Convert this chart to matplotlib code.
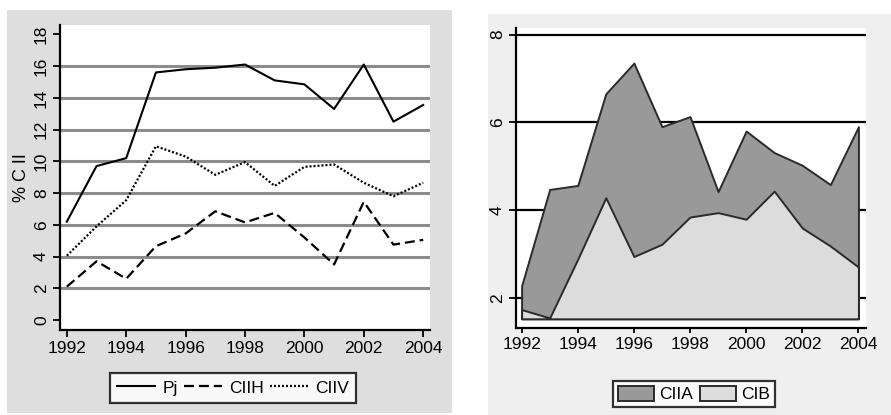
import numpy as np
import matplotlib.pyplot as plt
from matplotlib.patches import Rectangle

plt.rcParams['font.family'] = ['Liberation Sans', 'DejaVu Sans']

# datos
years = np.arange(1992, 2005)
pj   = [6.2, 9.7, 10.2, 15.6, 15.8, 15.9, 16.1, 15.1, 14.85, 13.3, 16.1, 12.5, 13.55]
ciih = [2.1, 3.7, 2.6, 4.65, 5.45, 6.85, 6.15, 6.75, 5.2, 3.5, 7.45, 4.75, 5.05]
ciiv = [4.05, 5.9, 7.55, 10.95, 10.3, 9.15, 9.95, 8.45, 9.65, 9.8, 8.65, 7.8, 8.65]

ciia = [2.27, 4.47, 4.56, 6.65, 7.35, 5.9, 6.13, 4.42, 5.8, 5.31, 5.02, 4.58, 5.9]
cib  = [1.73, 1.54, 2.88, 4.28, 2.94, 3.22, 3.84, 3.94, 3.79, 4.43, 3.59, 3.18, 2.7]
base = 1.52

fs = 12.5
W, H = 891, 415
fig = plt.figure(figsize=(W / 100, H / 100), dpi=100)
fig.patch.set_facecolor('white')

# fondos grises de cada panel
fig.patches.append(Rectangle((7 / W, 1 - 413 / H), 445 / W, 403 / H,
                             transform=fig.transFigure, facecolor='#dedede',
                             edgecolor='none', zorder=-10))
fig.patches.append(Rectangle((488 / W, 0), 403 / W, 1 - 14 / H,
                             transform=fig.transFigure, facecolor='#efefef',
                             edgecolor='none', zorder=-10))

# ---------- panel izquierdo ----------
ax1 = fig.add_axes([60 / W, 1 - 330 / H, 370 / W, 305 / H])
ax1.set_facecolor('white')
for y in range(2, 17, 2):
    ax1.axhline(y, color='#8c8c8c', lw=2.2, zorder=1)
ax1.plot(years, pj, color='black', lw=1.5, label='Pj', zorder=3)
ax1.plot(years, ciih, color='black', lw=1.6, ls=(0, (4.5, 2.2)), label='CIIH', zorder=3)
ax1.plot(years, ciiv, color='black', lw=1.6, ls=(0, (0.9, 0.9)), label='CIIV', zorder=3)
ax1.set_xlim(1991.77, 2004.23)
ax1.set_ylim(-0.63, 18.59)
ax1.set_xticks(range(1992, 2005, 2))
ax1.set_yticks(range(0, 19, 2))
ax1.set_ylabel('% C II', fontsize=fs + 0.5, labelpad=3)
for lab in ax1.get_yticklabels():
    lab.set_rotation(90)
    lab.set_va('center')

# ---------- panel derecho ----------
ax2 = fig.add_axes([516 / W, 1 - 328 / H, 350 / W, 300 / H])
ax2.set_facecolor('white')
for y in range(2, 9, 2):
    ax2.axhline(y, color='black', lw=1.6, zorder=1)
ax2.fill_between(years, base, ciia, facecolor='#999999', edgecolor='#2a2a2a',
                 lw=1.4, zorder=2, label='CIIA')
ax2.fill_between(years, base, cib, facecolor='#dcdcdc', edgecolor='#2a2a2a',
                 lw=1.4, zorder=3, label='CIB')
ax2.set_xlim(1991.8, 2004.27)
ax2.set_ylim(1.31, 8.15)
ax2.set_xticks(range(1992, 2005, 2))
ax2.set_yticks(range(2, 9, 2))
for lab in ax2.get_yticklabels():
    lab.set_rotation(90)
    lab.set_va('center')

for ax in (ax1, ax2):
    for s in ('top', 'right'):
        ax.spines[s].set_visible(False)
    for s in ('left', 'bottom'):
        ax.spines[s].set_linewidth(1.6)
    ax.tick_params(labelsize=fs, width=1.3, length=5, pad=3)
ax2.tick_params(axis='x', length=3.5)

leg1 = ax1.legend(loc='center', bbox_to_anchor=(233 / W, 1 - 388 / H),
                  bbox_transform=fig.transFigure, ncol=3, fontsize=fs,
                  frameon=True, fancybox=False, handlelength=2.2,
                  handletextpad=0.4, columnspacing=0.35, borderpad=0.4,
                  borderaxespad=0)
leg1.get_frame().set_edgecolor('black')
leg1.get_frame().set_linewidth(1.6)

leg2 = ax2.legend(loc='center', bbox_to_anchor=(694 / W, 1 - 394 / H),
                  bbox_transform=fig.transFigure, ncol=2, fontsize=fs,
                  frameon=True, fancybox=False, handlelength=2.1,
                  handleheight=0.95, handletextpad=0.3, columnspacing=0.35,
                  borderpad=0.3, borderaxespad=0)
leg2.get_frame().set_edgecolor('black')
leg2.get_frame().set_linewidth(1.6)

fig.savefig('out.png', dpi=100)
